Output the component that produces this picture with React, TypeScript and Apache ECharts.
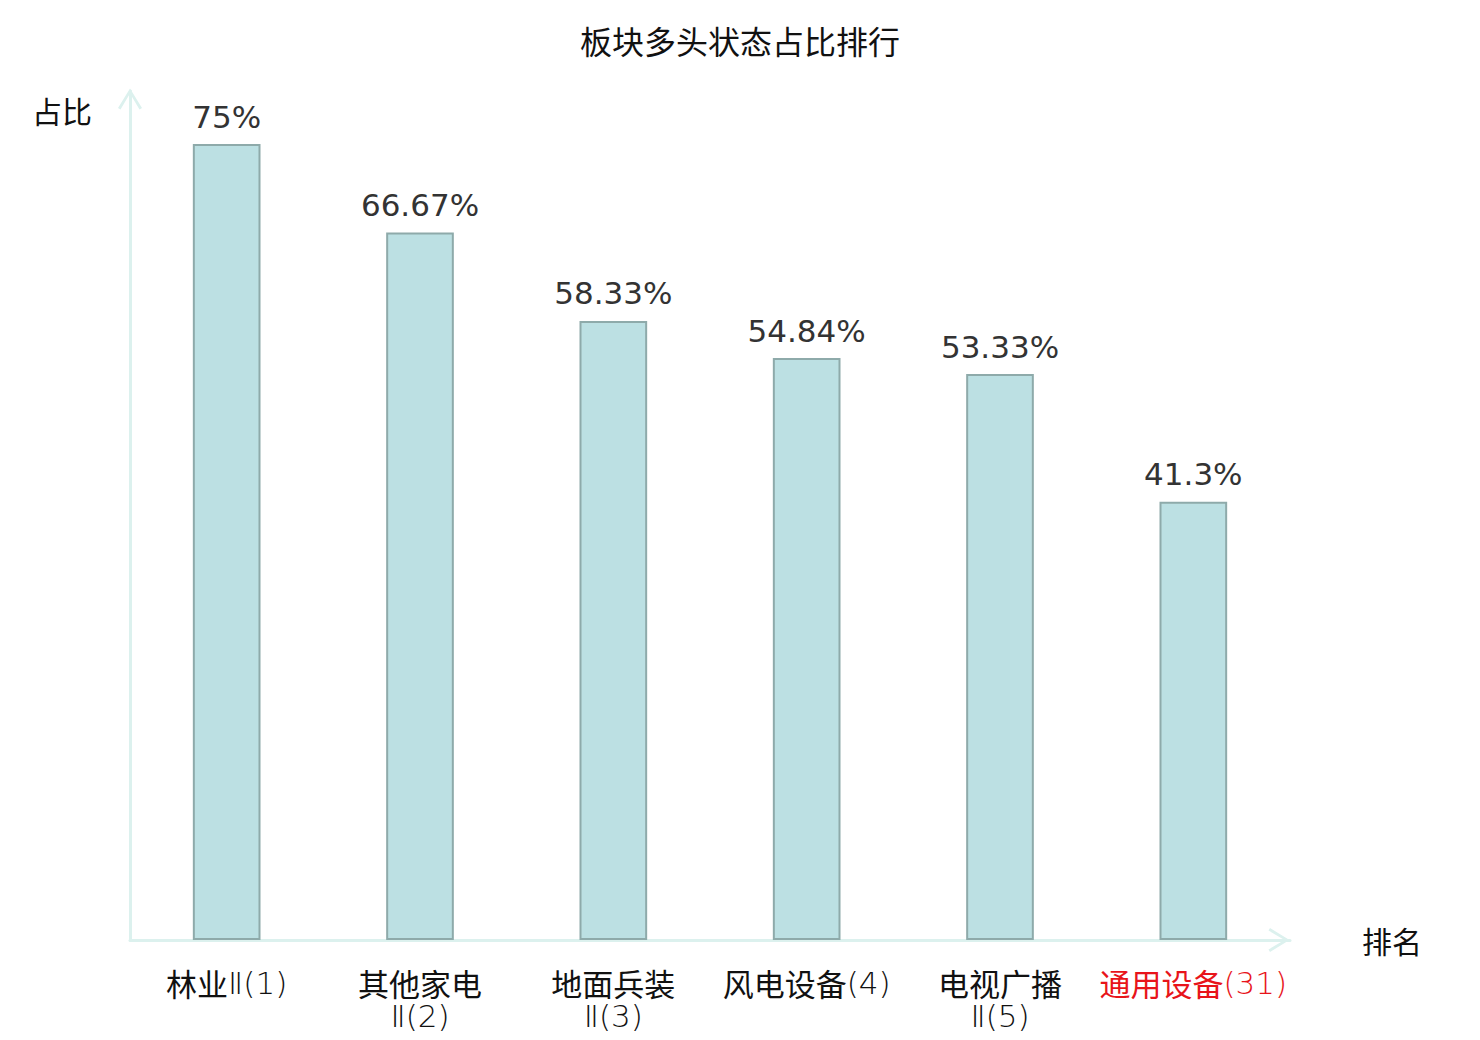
import React, { useEffect, useRef } from "react";
import * as echarts from "echarts";

const titleText = "板块多头状态占比排行";
const categories = ["林业Ⅱ", "其他家电Ⅱ", "地面兵装Ⅱ", "风电设备", "电视广播Ⅱ", "通用设备"];
const ranks = [1, 2, 3, 4, 5, 31];
const values = [75, 66.67, 58.33, 54.84, 53.33, 41.3];
const highlightIndex = 5;
const yAxisName = "占比";
const xAxisName = "排名";

const CJK = '"Noto Sans CJK SC", sans-serif';
const LATIN_LIGHT = '"DejaVu Sans", "Noto Sans CJK SC", sans-serif';
const CHEVRON = "path://M12 0 L24 19.5 L21.5 21 L12 5 L2.5 21 L0 19.5 Z";

export default function App() {
  const ref = useRef<HTMLDivElement>(null);
  useEffect(() => {
    document.body.style.margin = "0";
    if (!ref.current) return;
    const chart = echarts.init(ref.current, undefined, { renderer: "svg" });
    const labels = categories.map((c, i) => {
      const hasRoman = c.endsWith("Ⅱ");
      const base = hasRoman ? c.slice(0, -1) : c;
      const tail = (hasRoman ? "Ⅱ" : "") + "(" + ranks[i] + ")";
      const red = i === highlightIndex;
      const cs = red ? "cr" : "c";
      const ls = red ? "lr" : "l";
      if (hasRoman && base.length >= 4) {
        return "{" + cs + "|" + base + "}\n{" + ls + "|" + tail + "}";
      }
      return "{" + cs + "|" + base + "}{" + ls + "|" + tail + "}";
    });
    const richBase = { fontSize: 31, lineHeight: 33 };
    chart.setOption({
      animation: false,
      backgroundColor: "#ffffff",
      title: {
        text: titleText,
        left: "center",
        top: 19,
        textStyle: { fontFamily: CJK, fontSize: 32, fontWeight: "normal", color: "#111111" },
      },
      grid: { left: 130, right: 190, top: 91, bottom: 100, containLabel: false },
      xAxis: {
        type: "category",
        data: labels,
        name: xAxisName,
        nameLocation: "end",
        nameGap: 72,
        nameTextStyle: { fontFamily: CJK, fontSize: 30, color: "#111111", align: "left", verticalAlign: "middle" },
        axisLine: {
          show: true,
          symbol: ["none", CHEVRON],
          symbolSize: [24, 22],
          symbolOffset: [0, -11],
          lineStyle: { color: "#dcf1ee", width: 3 },
        },
        axisTick: { show: false },
        axisLabel: {
          interval: 0,
          margin: 26,
          fontSize: 31,
          lineHeight: 33,
          formatter: (v: string) => v,
          rich: {
            c: { ...richBase, fontFamily: CJK, color: "#111111" },
            l: { ...richBase, fontFamily: LATIN_LIGHT, fontWeight: 200, color: "#111111" },
            cr: { ...richBase, fontFamily: CJK, color: "#e8141a" },
            lr: { ...richBase, fontFamily: LATIN_LIGHT, fontWeight: 200, color: "#e8141a" },
          },
        },
        splitLine: { show: false },
      },
      yAxis: {
        type: "value",
        min: 0,
        max: 80,
        name: yAxisName,
        nameLocation: "end",
        nameGap: -19,
        nameTextStyle: {
          fontFamily: CJK,
          fontSize: 30,
          color: "#111111",
          align: "right",
          verticalAlign: "middle",
          padding: [0, 38, 0, 0],
        },
        axisLine: {
          show: true,
          symbol: ["none", CHEVRON],
          symbolSize: [24, 22],
          symbolOffset: [0, -8],
          lineStyle: { color: "#dcf1ee", width: 3 },
        },
        axisTick: { show: false },
        axisLabel: { show: false },
        splitLine: { show: false },
      },
      series: [
        {
          type: "bar",
          data: values,
          barWidth: "35%",
          itemStyle: { color: "#bce0e3", borderColor: "#8eaaaa", borderWidth: 2 },
          label: {
            show: true,
            position: "top",
            distance: 12,
            formatter: (p: any) => p.value + "%",
            fontFamily: '"DejaVu Sans", sans-serif',
            fontSize: 31,
            color: "#333333",
          },
        },
      ],
    });
    return () => chart.dispose();
  }, []);
  return <div ref={ref} style={{ width: 1480, height: 1040 }} />;
}
